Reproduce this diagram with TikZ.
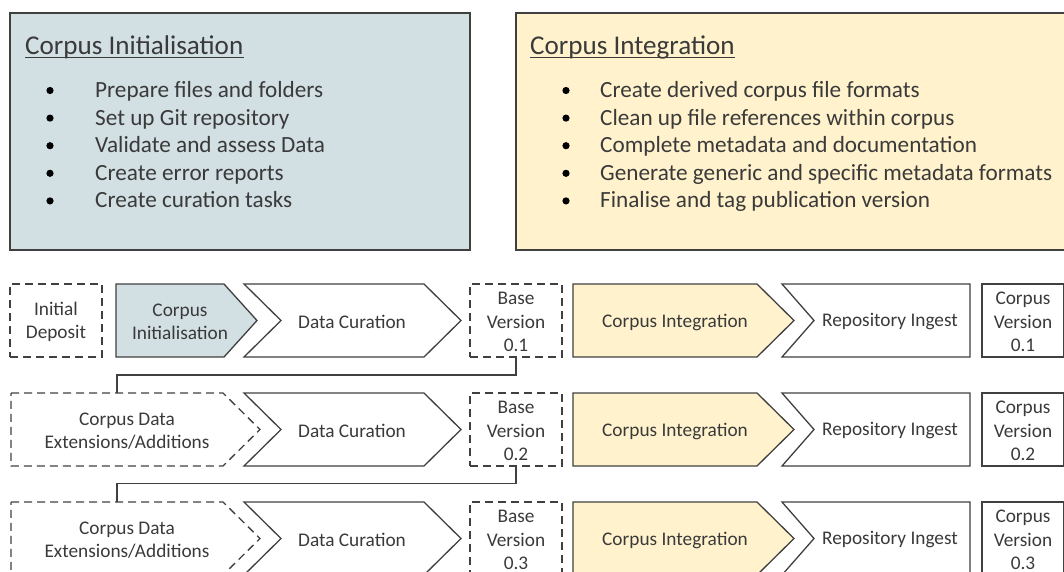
\documentclass[tikz,border=0pt]{standalone}
\usepackage{fontspec}
\setmainfont{Carlito}
\definecolor{linec}{HTML}{404040}
\definecolor{textc}{HTML}{3A3A3A}
\definecolor{bluec}{HTML}{D2DFE3}
\definecolor{yelc}{HTML}{FFF2CC}
\newcommand\nodefont{\fontsize{19.3}{23.5}\selectfont}
\newcommand\itemfont{\fontsize{23.2}{27.6}\selectfont}
\newcommand\titlefont{\fontsize{27.1}{33}\selectfont}
\begin{document}
\begin{tikzpicture}[x=1pt,y=-1pt,
  shp/.style={draw=linec, line width=1.3pt, line join=miter},
  dsh/.style={shp, dash pattern=on 8pt off 5pt},
  txt/.style={text=textc, font=\nodefont, align=center, inner sep=0pt},
  itm/.style={text=textc, font=\itemfont, anchor=base west, inner sep=0pt},
  ttl/.style={text=textc, font=\titlefont, anchor=base west, inner sep=0pt},
  boxnode/.style={rectangle, minimum width=#1, minimum height=73pt, inner sep=0pt, outer sep=0pt, text=textc, font=\nodefont, align=center},
  conn/.style={draw=linec, line width=1.3pt}
]
\useasboundingbox (0,0) rectangle (1064,571);
\clip (0,0) rectangle (1064,571);

% ---------- top panels ----------
\draw[shp, fill=bluec] (10,13) rectangle (470,250);
\draw[shp, fill=yelc] (516,13) rectangle (1080,250);

\node[ttl] (t1) at (25,54) {Corpus Initialisation};
\draw[textc, line width=1.4pt] ([yshift=-3.5pt]t1.base west) -- ([yshift=-3.5pt]t1.base east);
\node[ttl] (t2) at (530,54) {Corpus Integration};
\draw[textc, line width=1.4pt] ([yshift=-3.5pt]t2.base west) -- ([yshift=-3.5pt]t2.base east);

\foreach \i/\txt in {0/Prepare files and folders,1/Set up Git repository,2/Validate and assess Data,3/Create error reports,4/Create curation tasks}{
  \pgfmathsetmacro\yy{97.5+27.6*\i}
  \fill[black] (50,\yy-7) circle (3.6);
  \node[itm] (la\i) at (95,\yy) {\txt};
}
\foreach \i/\txt in {0/Create derived corpus file formats,1/Clean up file references within corpus,2/Complete metadata and documentation,3/Generate generic and specific metadata formats,4/Finalise and tag publication version}{
  \pgfmathsetmacro\yy{97.5+27.6*\i}
  \fill[black] (566,\yy-7) circle (3.6);
  \node[itm] (ra\i) at (600,\yy) {\txt};
}

% ---------- rows ----------
\foreach \r/\T in {1/284,2/393,3/502}{
  \pgfmathsetmacro\B{\T+73}
  \pgfmathsetmacro\M{\T+36.5}
  \pgfmathsetmacro\N{\T+38}
  % Data Curation chevron
  \draw[shp, fill=white] (244,\T) -- (424,\T) -- (461,\M) -- (424,\B) -- (244,\B) -- (281,\M) -- cycle;
  \node[txt] (dc\r) at (352,\N) {Data Curation};
  % Base Version
  \node[boxnode=92pt, dsh] (bv\r) at (516,\M) {};
  \node[txt] (bvt\r) at (516,\N) {Base\\Version\\0.\r};
  % Corpus Integration
  \draw[shp, fill=yelc] (573,\T) -- (757,\T) -- (794,\M) -- (757,\B) -- (573,\B) -- cycle;
  \node[txt] (ci\r) at (675,\N) {Corpus Integration};
  % Repository Ingest
  \draw[shp, fill=white] (782,\T) -- (970,\T) -- (970,\B) -- (782,\B) -- (814,\M) -- cycle;
  \node[txt] (ri\r) at (890,\N) {Repository Ingest};
  % Corpus Version
  \node[boxnode=82pt, shp] (cv\r) at (1023,\M) {};
  \node[txt] (cvt\r) at (1023,\N) {Corpus\\Version\\0.\r};
}

% row 1 start
\node[boxnode=92pt, dsh] (init) at (56,320.5) {};
\node[txt] (initt) at (56,322) {Initial\\Deposit};
\draw[shp, fill=bluec] (116,284) -- (224,284) -- (257,320.5) -- (224,357) -- (116,357) -- cycle;
\node[txt] (cinit) at (180,322) {Corpus\\Initialisation};

% rows 2 and 3 start
\foreach \r/\T in {2/393,3/502}{
  \pgfmathsetmacro\B{\T+73}
  \pgfmathsetmacro\M{\T+36.5}
  \pgfmathsetmacro\N{\T+38}
  \draw[dsh] (11,\T) -- (223,\T) -- (260,\M) -- (223,\B) -- (11,\B) -- cycle;
  \node[txt] (ext\r) at (127,\N) {Corpus Data\\Extensions/Additions};
  \coordinate (et\r) at (117,\T);
}

% connectors
\draw[conn] (bv1.south) -- ++(0,18) -| (et2);
\draw[conn] (bv2.south) -- ++(0,17.5) -| (et3);
\end{tikzpicture}
\end{document}
